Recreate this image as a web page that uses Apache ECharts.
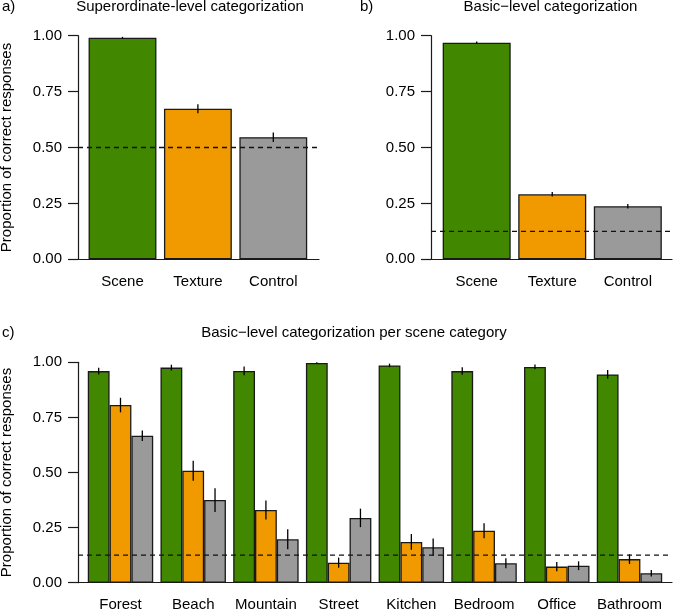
<!DOCTYPE html>
<html>
<head>
<meta charset="utf-8">
<script src="https://cdn.jsdelivr.net/npm/echarts@6/dist/echarts.min.js"></script>
<style>
html,body{margin:0;padding:0;background:#fff;}
#chart{width:673px;height:610px;}
</style>
</head>
<body>
<div id="chart"></div>
<script>
// ---- data ----
const conditions = ['Scene', 'Texture', 'Control'];
const superMeans = [0.991, 0.673, 0.546];
const superErrors = [0.004, 0.020, 0.021];
const superChance = 0.5;

const basicMeans = [0.969, 0.291, 0.237];
const basicErrors = [0.005, 0.010, 0.010];
const basicChance = 0.125;

const sceneCategories = ['Forest', 'Beach', 'Mountain', 'Street', 'Kitchen', 'Bedroom', 'Office', 'Bathroom'];
const sceneMeans   = [0.960, 0.976, 0.961, 0.997, 0.986, 0.960, 0.979, 0.945];
const sceneErrors  = [0.015, 0.013, 0.020, 0.003, 0.008, 0.017, 0.011, 0.020];
const textureMeans = [0.806, 0.508, 0.330, 0.091, 0.185, 0.236, 0.073, 0.107];
const textureErrors= [0.033, 0.045, 0.043, 0.023, 0.036, 0.034, 0.021, 0.022];
const controlMeans = [0.667, 0.375, 0.197, 0.294, 0.161, 0.088, 0.077, 0.043];
const controlErrors= [0.024, 0.054, 0.045, 0.042, 0.039, 0.023, 0.020, 0.015];

const yTickLabels = ['0.00', '0.25', '0.50', '0.75', '1.00'];
const yLabel = 'Proportion of correct responses';
const titles = ['Superordinate-level categorization', 'Basic\u2212level categorization', 'Basic\u2212level categorization per scene category'];
const panelLetters = ['a)', 'b)', 'c)'];

// ---- styles ----
const FONT = 'Liberation Sans, Arial, Helvetica, sans-serif';
const colors = ['#418700', '#f09a00', '#9a9a9a'];
const edge = '#1a1a1a';
const GAP = 0.1; // category gap fraction

const chart = echarts.init(document.getElementById('chart'), null, {renderer: 'canvas'});

const grids = [
  {left: 78, top: 35.7, width: 241, height: 223.6},      // a axes
  {left: 84.8, top: 35.7, width: 226.2, height: 223.6},  // a bars
  {left: 431, top: 35.7, width: 241, height: 223.6},     // b axes
  {left: 438.9, top: 35.7, width: 226.7, height: 223.6}, // b bars
  {left: 78, top: 362.3, width: 594, height: 220.4},     // c axes
  {left: 84.14, top: 362.3, width: 581.7, height: 220.4} // c bars
].map(g => Object.assign({outerBoundsMode: 'none', containLabel: false}, g));

const xAxes = [], yAxes = [], series = [];

function axisPair(gi) {
  xAxes.push({gridIndex: gi, type: 'value', min: 0, max: 1,
    axisLine: {show: true, onZero: false, lineStyle: {color: edge, width: 1.2}},
    axisTick: {show: false}, axisLabel: {show: false}, splitLine: {show: false}});
  yAxes.push({gridIndex: gi, type: 'value', min: 0, max: 1, interval: 0.25,
    axisLine: {show: true, lineStyle: {color: edge, width: 1.2}},
    axisTick: {show: true, length: 10, lineStyle: {color: edge, width: 1.2}},
    axisLabel: {show: true, margin: 16, color: '#000', fontSize: 15, fontFamily: FONT,
      formatter: (v) => yTickLabels[Math.round(v / 0.25)]},
    splitLine: {show: false},
    name: yLabel, nameLocation: 'middle', nameGap: 64, nameRotate: 90,
    nameTextStyle: {color: '#000', fontSize: 15, fontFamily: FONT}});
}
function barPair(gi, cats) {
  xAxes.push({gridIndex: gi, type: 'category', data: cats,
    axisLine: {show: false}, axisTick: {show: false}, splitLine: {show: false},
    axisLabel: {show: true, interval: 0, margin: 15, color: '#000', fontSize: 15, fontFamily: FONT}});
  yAxes.push({gridIndex: gi, type: 'value', min: 0, max: 1, show: false,
    axisLine: {show: false}, splitLine: {show: false}});
}
function chanceLine(ax, value) {
  series.push({type: 'line', xAxisIndex: ax, yAxisIndex: ax, z: 6, silent: true,
    data: [[0, value], [1, value]], symbol: 'none',
    lineStyle: {color: '#111', width: 1.3, type: [5, 4]}});
}
function errorSeries(ax, means, errs, k, n) {
  series.push({type: 'custom', xAxisIndex: ax, yAxisIndex: ax, z: 5, silent: true,
    encode: {x: 0, y: 1},
    data: means.map((m, i) => [i, m, errs[i]]),
    renderItem: function (params, api) {
      const x = api.value(0), m = api.value(1), e = api.value(2);
      const band = api.size([1, 0])[0];
      const bw = band * (1 - GAP) / n;
      const off = (k - (n - 1) / 2) * bw;
      const p1 = api.coord([x, m - e]);
      const p2 = api.coord([x, m + e]);
      return {type: 'line', shape: {x1: p1[0] + off, y1: p1[1], x2: p2[0] + off, y2: p2[1]},
        style: {stroke: '#000', lineWidth: 1.3}};
    }});
}

// panel a
axisPair(0); barPair(1, conditions);
series.push({type: 'bar', xAxisIndex: 1, yAxisIndex: 1, barCategoryGap: (GAP * 100) + '%',
  data: superMeans.map((v, i) => ({value: v, itemStyle: {color: colors[i]}})),
  itemStyle: {borderColor: edge, borderWidth: 1.3}});
errorSeries(1, superMeans, superErrors, 0, 1);
chanceLine(0, superChance);

// panel b
axisPair(2); barPair(3, conditions);
yAxes[2].name = '';
series.push({type: 'bar', xAxisIndex: 3, yAxisIndex: 3, barCategoryGap: (GAP * 100) + '%',
  data: basicMeans.map((v, i) => ({value: v, itemStyle: {color: colors[i]}})),
  itemStyle: {borderColor: edge, borderWidth: 1.3}});
errorSeries(3, basicMeans, basicErrors, 0, 1);
chanceLine(2, basicChance);

// panel c
axisPair(4); barPair(5, sceneCategories);
const groups = [[sceneMeans, sceneErrors], [textureMeans, textureErrors], [controlMeans, controlErrors]];
groups.forEach((g, k) => {
  series.push({type: 'bar', xAxisIndex: 5, yAxisIndex: 5, barGap: '0%', barCategoryGap: (GAP * 100) + '%',
    data: g[0], itemStyle: {color: colors[k], borderColor: edge, borderWidth: 1.3}});
});
groups.forEach((g, k) => errorSeries(5, g[0], g[1], k, 3));
chanceLine(4, basicChance);

const textStyleBase = {fill: '#000', fontSize: 15, fontFamily: FONT, verticalAlign: 'middle'};
const graphic = [
  {type: 'text', x: 190, y: 7, style: Object.assign({text: titles[0], align: 'center'}, textStyleBase)},
  {type: 'text', x: 550.5, y: 7, style: Object.assign({text: titles[1], align: 'center'}, textStyleBase)},
  {type: 'text', x: 354, y: 333, style: Object.assign({text: titles[2], align: 'center'}, textStyleBase)},
  {type: 'text', x: 2, y: 7, style: Object.assign({text: panelLetters[0], align: 'left'}, textStyleBase)},
  {type: 'text', x: 360, y: 7, style: Object.assign({text: panelLetters[1], align: 'left'}, textStyleBase)},
  {type: 'text', x: 2, y: 333, style: Object.assign({text: panelLetters[2], align: 'left'}, textStyleBase)}
];

chart.setOption({
  animation: false,
  backgroundColor: '#ffffff',
  textStyle: {fontFamily: FONT},
  grid: grids, xAxis: xAxes, yAxis: yAxes, series: series, graphic: graphic
});
</script>
</body>
</html>
